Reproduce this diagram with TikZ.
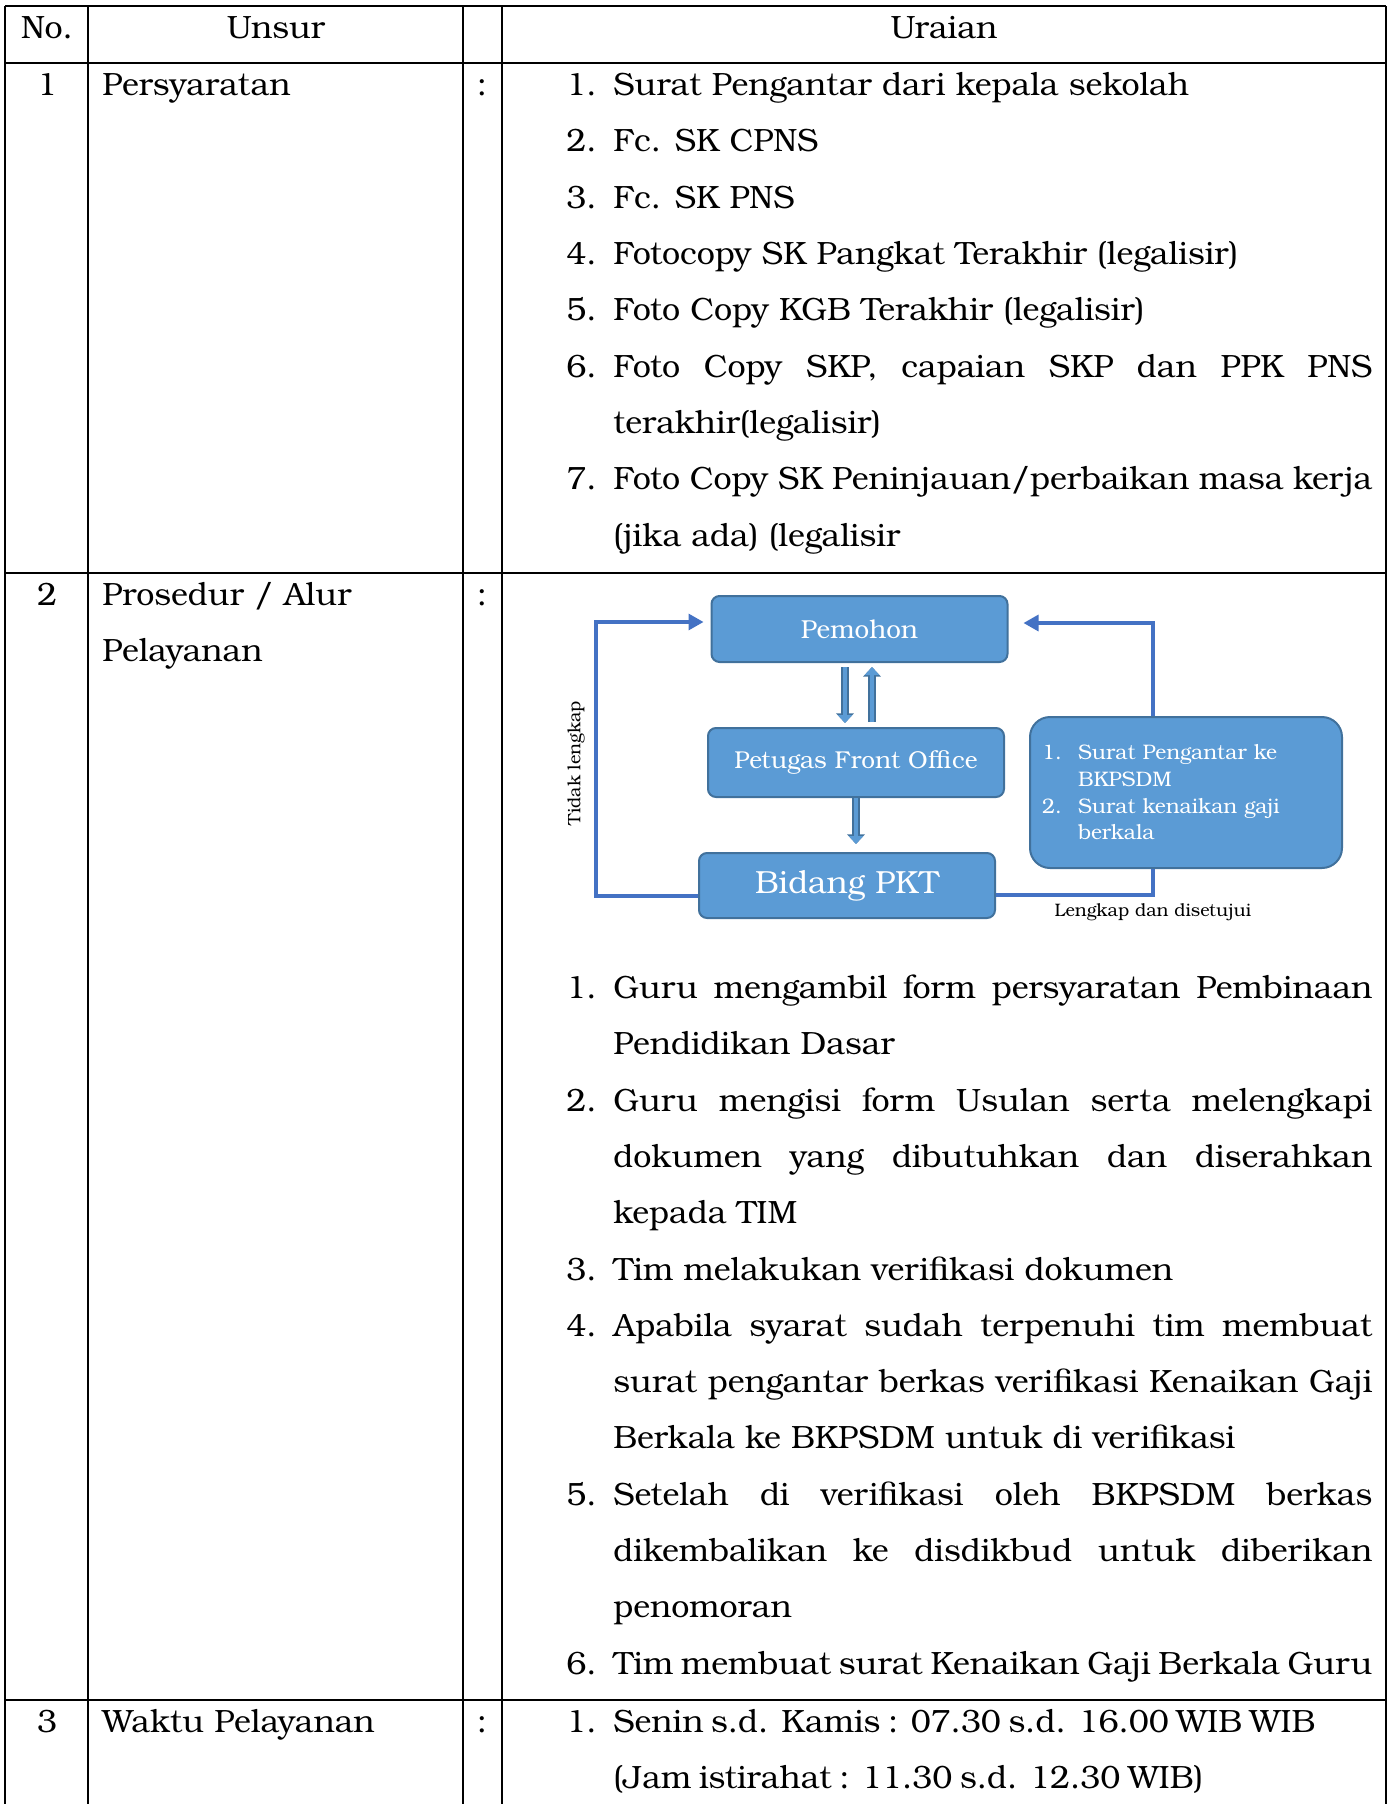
\documentclass[tikz,border=0pt]{standalone}
\usepackage{fontspec}
\setmainfont{TeX Gyre Bonum}
\usepackage{tikz}
\usetikzlibrary{arrows.meta,positioning,calc}

\definecolor{boxfill}{HTML}{5B9BD5}
\definecolor{boxline}{HTML}{41719C}
\definecolor{linkblue}{HTML}{4472C4}

% one justified line of the list column
\newcommand{\fillline}[1]{\makebox[379.5pt][s]{#1}}

\begin{document}
\begin{tikzpicture}[
        x=0.5pt, y=-0.5pt,
        rule/.style={black, line width=1.1pt},
        txt/.style={anchor=west, inner sep=0pt, font=\fontsize{16.1}{19}\selectfont,
            text height=13pt, text depth=2pt},
        mid/.style={txt, anchor=center},
        flowbox/.style={draw=boxline, fill=boxfill, line width=1pt,
            rounded corners=4pt, text=white, inner sep=0pt, minimum width=148pt},
        link/.style={linkblue, line width=1.6pt},
        tip/.style={-{Triangle[length=7.5pt,width=8pt]}},
        dbl/.style={boxfill, line width=2.4pt, -{Triangle[length=4pt,width=7pt]},
            preaction={draw=boxline, line width=3.6pt,
                -{Triangle[length=4.8pt,width=8.6pt]}}},
        note/.style={font=\fontsize{9}{11}\selectfont, inner sep=0pt},
    ]
    \useasboundingbox (0,0) rectangle (1393,1804);
    % table rules
    \foreach \y in {6,63,573,1700}
        \draw[rule] (5,\y) -- (1386,\y);
    \foreach \x in {5,88,463,502,1386}
        \draw[rule] (\x,6) -- (\x,1804);

    % header
    \node[mid] (hno) at (47,28) {No.};
    \node[mid] (hunsur) at (276,28) {Unsur};
    \node[mid] (huraian) at (944,28) {Uraian};

    % row 1
    \node[mid] (no1) at (47,84) {1};
    \node[txt] (unsur1) at (102,84) {Persyaratan};
    \node[mid] (sep1) at (482,84) {:};
    \node[txt] (a1) at (566,84) {1.};
    \node[txt] (a1t) at (613,84) {Surat Pengantar dari kepala sekolah};
    \node[txt] (a2) at (566,140) {2.};
    \node[txt] (a2t) at (613,140) {Fc. SK CPNS};
    \node[txt] (a3) at (566,197) {3.};
    \node[txt] (a3t) at (613,197) {Fc. SK PNS};
    \node[txt] (a4) at (566,253) {4.};
    \node[txt] (a4t) at (613,253) {Fotocopy SK Pangkat Terakhir (legalisir)};
    \node[txt] (a5) at (566,309) {5.};
    \node[txt] (a5t) at (613,309) {Foto Copy KGB Terakhir (legalisir)};
    \node[txt] (a6) at (566,366) {6.};
    \node[txt] (a6t) at (613,366) {\fillline{Foto Copy SKP, capaian SKP dan PPK PNS}};
    \node[txt] (a6u) at (613,422) {terakhir(legalisir)};
    \node[txt] (a7) at (566,478) {7.};
    \node[txt] (a7t) at (613,478) {\fillline{Foto Copy SK Peninjauan/perbaikan masa kerja}};
    \node[txt] (a7u) at (613,535) {(jika ada) (legalisir};

    % row 2
    \node[mid] (no2) at (47,594) {2};
    \node[txt] (unsur2) at (102,594) {Prosedur / Alur};
    \node[txt] (unsur2b) at (102,650) {Pelayanan};
    \node[mid] (sep2) at (482,594) {:};

    % flow
    \node[flowbox, minimum height=33pt, font=\fontsize{13}{15}\selectfont]
        (pemohon) at (859.5,629) {Pemohon};
    \node[flowbox, minimum height=34.5pt, font=\fontsize{12.2}{15}\selectfont]
        (petugas) at (856,762.5) {Petugas Front Office};
    \node[flowbox, minimum height=32.5pt, font=\fontsize{16}{19}\selectfont]
        (bidang) at (847,885.5) {Bidang PKT};
    \node[flowbox, rounded corners=10pt, minimum width=156pt, minimum height=75.5pt,
        inner xsep=6pt, text width=144pt, align=left,
        font=\fontsize{10.5}{13.35}\selectfont]
        (syarat) at (1186,792.5) {\makebox[18pt][l]{1.}Surat Pengantar ke\\
            \hspace*{18pt}BKPSDM\\
            \makebox[18pt][l]{2.}Surat kenaikan gaji\\
            \hspace*{18pt}berkala};
    \node[note, rotate=90] (tidak) at (576,763) {Tidak lengkap};
    \node[note] (lengkap) at (1153,912) {Lengkap dan disetujui};

    \draw[dbl, shorten <=2pt, shorten >=2pt] ([xshift=-7.25pt]pemohon.south)
        -- ([xshift=-7.25pt]pemohon.south |- petugas.north);
    \draw[dbl, shorten <=2.5pt, shorten >=2pt] ([xshift=6.25pt]pemohon.south |- petugas.north)
        -- ([xshift=6.25pt]pemohon.south);
    \draw[dbl, shorten >=4pt] (petugas.south) -- (petugas.south |- bidang.north);

    \draw[link, tip, shorten >=3.5pt] ([yshift=-5.25pt]bidang.west) -- ++(-102,0)
        |- ([yshift=3.5pt]pemohon.west);
    \draw[link] ([yshift=-4.75pt]bidang.east) -| ([xshift=-16.5pt]syarat.south);
    \draw[link, tip, shorten >=7.5pt] ([xshift=-16.5pt]syarat.north)
        |- ([yshift=3pt]pemohon.east);

    % row 2 list
    \node[txt] (b1) at (566,987) {1.};
    \node[txt] (b1t) at (613,987) {\fillline{Guru mengambil form persyaratan Pembinaan}};
    \node[txt] (b1u) at (613,1043) {Pendidikan Dasar};
    \node[txt] (b2) at (566,1100) {2.};
    \node[txt] (b2t) at (613,1100) {\fillline{Guru mengisi form Usulan serta melengkapi}};
    \node[txt] (b2u) at (613,1156) {\fillline{dokumen yang dibutuhkan dan diserahkan}};
    \node[txt] (b2v) at (613,1212) {kepada TIM};
    \node[txt] (b3) at (566,1269) {3.};
    \node[txt] (b3t) at (613,1269) {Tim melakukan verifikasi dokumen};
    \node[txt] (b4) at (566,1325) {4.};
    \node[txt] (b4t) at (613,1325) {\fillline{Apabila syarat sudah terpenuhi tim membuat}};
    \node[txt] (b4u) at (613,1381) {\fillline{surat pengantar berkas verifikasi Kenaikan Gaji}};
    \node[txt] (b4v) at (613,1437) {Berkala ke BKPSDM untuk di verifikasi};
    \node[txt] (b5) at (566,1494) {5.};
    \node[txt] (b5t) at (613,1494) {\fillline{Setelah di verifikasi oleh BKPSDM berkas}};
    \node[txt] (b5u) at (613,1550) {\fillline{dikembalikan ke disdikbud untuk diberikan}};
    \node[txt] (b5v) at (613,1606) {penomoran};
    \node[txt] (b6) at (566,1663) {6.};
    \node[txt] (b6t) at (613,1663) {\fillline{Tim membuat surat Kenaikan Gaji Berkala Guru}};

    % row 3
    \node[mid] (no3) at (47,1721) {3};
    \node[txt] (unsur3) at (102,1721) {Waktu Pelayanan};
    \node[mid] (sep3) at (482,1721) {:};
    \node[txt] (c1) at (566,1721) {1.};
    \node[txt] (c1t) at (613,1721) {\makebox[351pt][s]{Senin s.d. Kamis : 07.30 s.d. 16.00 WIB WIB}};
    \node[txt] (c1u) at (613,1777) {\makebox[295pt][s]{(Jam istirahat : 11.30 s.d. 12.30 WIB)}};
\end{tikzpicture}
\end{document}
